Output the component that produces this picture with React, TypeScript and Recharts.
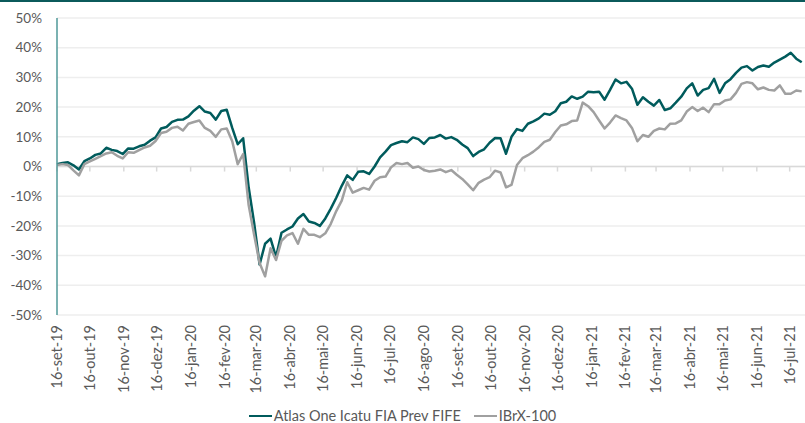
import { LineChart, Line, XAxis, YAxis, CartesianGrid, ReferenceLine, Legend } from 'recharts'

// daily quotes sampled every 5 days, starting 16-set-19
const START = Date.UTC(2019, 8, 16)
const DAY_MS = 86400000
const STEP_DAYS = 5
const LAST_DAY = 683

const TICK_LABELS = [
  '16-set-19', '16-out-19', '16-nov-19', '16-dez-19', '16-jan-20', '16-fev-20',
  '16-mar-20', '16-abr-20', '16-mai-20', '16-jun-20', '16-jul-20', '16-ago-20',
  '16-set-20', '16-out-20', '16-nov-20', '16-dez-20', '16-jan-21', '16-fev-21',
  '16-mar-21', '16-abr-21', '16-mai-21', '16-jun-21', '16-jul-21',
]

const Y_TICKS = [-50, -40, -30, -20, -10, 0, 10, 20, 30, 40, 50]

const FUND = [
  0.8, 1.2, 1.4, 0.4, -1.0, 1.8, 2.7, 3.9, 4.4, 6.3,
  5.6, 5.2, 4.2, 6.1, 6.0, 6.8, 7.3, 8.7, 9.8, 12.8,
  13.3, 15.0, 15.7, 15.8, 16.9, 18.8, 20.3, 18.5, 18.0, 15.8,
  18.7, 19.1, 13.0, 7.5, 9.5, -7.0, -19.0, -33.0, -26.0, -24.3,
  -30.5, -22.3, -21.2, -20.2, -17.5, -16.0, -18.5, -19.0, -20.0, -17.5,
  -14.2, -10.5, -6.5, -3.0, -4.5, -1.8, -1.6, -2.5, 0.0, 3.1,
  5.0, 7.2, 7.9, 8.5, 8.2, 9.8, 9.2, 7.6, 9.6, 9.8,
  10.6, 9.4, 9.9, 9.0, 7.4, 6.2, 3.5, 4.9, 5.8, 8.0,
  9.6, 9.5, 4.3, 10.0, 12.6, 12.0, 14.4, 15.2, 16.2, 17.8,
  17.4, 18.6, 21.3, 21.8, 23.6, 22.8, 23.5, 25.2, 25.0, 25.2,
  22.5, 25.8, 29.3, 28.0, 28.5, 26.2, 20.8, 23.3, 21.8, 20.5,
  22.4, 19.0, 19.6, 21.5, 23.5, 26.3, 28.0, 23.9, 25.8, 26.4,
  29.5, 24.8, 28.0, 29.4, 31.5, 33.3, 33.8, 32.3, 33.5, 34.0,
  33.6, 35.0, 36.0, 37.0, 38.3, 36.3, 35.1,
]

const IBRX = [
  0.5, 0.8, 0.5, -1.3, -3.0, 0.8, 1.7, 2.6, 3.5, 4.4,
  4.8, 3.6, 2.7, 4.8, 4.6, 5.5, 6.4, 7.0, 8.6, 11.3,
  11.7, 13.0, 13.4, 12.1, 14.4, 15.0, 15.5, 13.0, 12.0, 10.0,
  12.5, 12.8, 8.5, 0.8, 4.2, -13.0, -23.0, -32.5, -37.0, -27.5,
  -31.5, -25.0, -23.2, -22.4, -26.0, -21.0, -23.0, -23.0, -23.8, -22.5,
  -19.3, -15.0, -11.5, -5.3, -8.8, -8.0, -7.2, -7.8, -4.8, -3.6,
  -3.4, -0.3, 1.2, 0.8, 1.2, -0.4, 0.0, -1.2, -1.7, -1.4,
  -1.0, -1.9, -1.2, -2.8, -4.2, -6.0, -8.0, -5.5, -4.4, -3.6,
  -1.4, -2.0, -7.0, -6.2, 0.5, 2.8, 3.8, 5.0, 6.5, 8.3,
  9.0, 11.6, 13.8, 14.2, 15.3, 15.5, 21.5, 20.3, 18.3, 15.5,
  12.8, 14.8, 17.2, 16.3, 15.5, 13.0, 8.5, 10.6, 10.0, 12.0,
  12.8, 12.5, 14.4, 14.5, 15.5, 18.5, 20.0, 18.7, 19.8, 18.3,
  21.0, 21.0, 22.2, 22.6, 24.8, 27.8, 28.4, 28.0, 26.0, 26.6,
  25.8, 25.6, 27.3, 24.5, 24.5, 25.6, 25.3,
]

const SERIES = [
  { key: 'fund', name: 'Atlas One Icatu FIA Prev FIFE', color: '#005b5c' },
  { key: 'ibrx', name: 'IBrX-100', color: '#a0a0a0' },
]

const TEXT = '#595959'
const FONT = 'Lato, "Liberation Sans", sans-serif'

const TICK_DAYS = TICK_LABELS.map((_, k) => Math.round((Date.UTC(2019, 8 + k, 16) - START) / DAY_MS))
const data = FUND.map((v, i) => ({ day: i * STEP_DAYS, fund: v, ibrx: IBRX[i] }))

function MonthTick({ x, y, payload }: any) {
  const label = TICK_LABELS[TICK_DAYS.indexOf(payload.value)]
  return (
    <text
      x={x}
      y={y}
      transform={`rotate(-90, ${x}, ${y})`}
      textAnchor="end"
      dy="0.35em"
      fill={TEXT}
      fontSize={14.5}
      fontFamily={FONT}
    >
      {label}
    </text>
  )
}

function ChartLegend() {
  return (
    <div style={{ height: 40, paddingTop: 26, boxSizing: 'border-box', display: 'flex', justifyContent: 'center', gap: 13, fontSize: 14.5, lineHeight: '16px', color: TEXT, fontFamily: FONT }}>
      {SERIES.map(s => (
        <span key={s.key} style={{ display: 'flex', alignItems: 'center' }}>
          <span style={{ width: 23, borderTop: `2.5px solid ${s.color}`, marginRight: 2 }} />
          {s.name}
        </span>
      ))}
    </div>
  )
}

export default function App() {
  return (
    <div style={{ position: 'absolute', left: 0, top: 0, width: 805, height: 423, background: '#fff', fontFamily: FONT }}>
      <div style={{ position: 'absolute', left: 0, top: 0, width: 805, height: 2, background: '#0b5a5b', zIndex: 2 }} />
      <LineChart width={805} height={423} data={data} margin={{ top: 18, right: 0, left: 0, bottom: 0 }}>
        <CartesianGrid horizontal vertical={false} stroke="#eeeeee" strokeWidth={1.5} />
        <XAxis
          dataKey="day"
          type="number"
          domain={[0, LAST_DAY]}
          ticks={TICK_DAYS}
          interval={0}
          axisLine={false}
          tickLine={false}
          tickSize={0}
          tickMargin={10}
          height={68}
          tick={<MonthTick />}
        />
        <YAxis
          domain={[-50, 50]}
          ticks={Y_TICKS}
          interval={0}
          width={57}
          axisLine={{ stroke: '#4f9898', strokeWidth: 1.5 }}
          tickLine={false}
          tickSize={0}
          tickMargin={15}
          tickFormatter={(v: number) => `${v}%`}
          tick={{ fill: TEXT, fontSize: 13.5, fontFamily: FONT }}
        />
        <ReferenceLine y={0} stroke="#d9d9d9" strokeWidth={1.5} />
        {TICK_DAYS.map(d => (
          <ReferenceLine key={d} segment={[{ x: d, y: 0 }, { x: d, y: -1.7 }]} stroke="#d9d9d9" strokeWidth={1.5} />
        ))}
        {SERIES.map(s => (
          <Line
            key={s.key}
            type="linear"
            dataKey={s.key}
            name={s.name}
            stroke={s.color}
            strokeWidth={2.5}
            strokeLinejoin="round"
            dot={false}
            activeDot={false}
            isAnimationActive={false}
          />
        ))}
        <Legend verticalAlign="bottom" height={40} content={<ChartLegend />} />
      </LineChart>
    </div>
  )
}
